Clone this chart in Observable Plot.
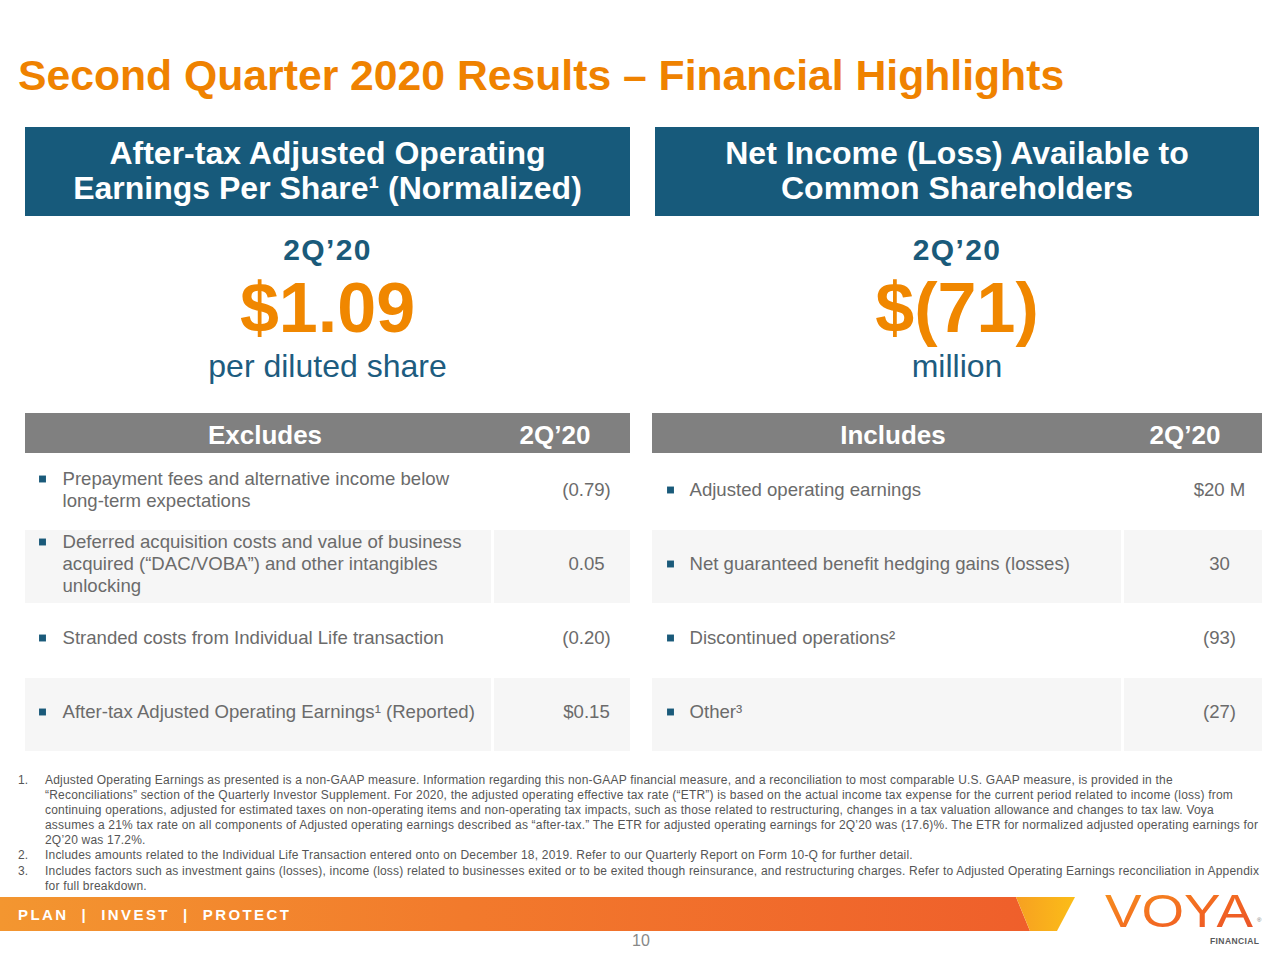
<!DOCTYPE html>
<html><head><meta charset="utf-8">
<script src="https://cdn.jsdelivr.net/npm/d3@7"></script>
<script src="https://cdn.jsdelivr.net/npm/@observablehq/plot@0.6"></script>
<style>
html,body{margin:0;padding:0;background:#fff;}
#slide{position:relative;width:1280px;height:960px;overflow:hidden;font-family:"Liberation Sans",Arial,Helvetica,sans-serif;}
.abs{position:absolute;line-height:1;white-space:nowrap;}
#title{left:18px;top:54px;font-size:42.7px;font-weight:bold;color:#ef8200;}
.hbox{position:absolute;top:127px;height:89px;background:#175a7b;color:#fff;font-weight:bold;font-size:32px;line-height:35px;text-align:center;box-sizing:border-box;padding-top:9px;white-space:nowrap;}
.kpi{position:absolute;text-align:center;line-height:1;white-space:nowrap;}
.q{font-size:30px;font-weight:bold;color:#1a5a7a;letter-spacing:1.4px;}
.big{font-size:70px;font-weight:bold;color:#f08700;}
.unit{font-size:32px;color:#1d5c7f;}
.tbar{position:absolute;top:413px;height:40px;background:#808080;color:#fff;font-weight:bold;font-size:26px;}
.tbar span{position:absolute;top:9px;line-height:1;transform:translateX(-50%);white-space:nowrap;}
.tbl{position:absolute;top:455px;}
#notes{position:absolute;left:0;top:773px;width:1280px;font-size:12px;letter-spacing:0.2px;line-height:15.1px;color:#555;}
#notes div{position:relative;white-space:nowrap;}
#notes .n{position:absolute;left:18px;letter-spacing:0;}
#notes .t{position:absolute;left:45px;}
#banner{position:absolute;left:0;top:897px;width:1080px;height:34px;}
#tag{left:18px;top:907px;font-size:15px;font-weight:bold;color:#fff;letter-spacing:2.4px;white-space:pre;}
#page{left:632px;top:933px;font-size:16px;color:#888;}
#logo{position:absolute;left:1095px;top:880px;}
</style></head>
<body><div id="slide"></div>
<script>
// ---------- data ----------
const slideTitle = "Second Quarter 2020 Results – Financial Highlights";
const panelTitles = ["After-tax Adjusted Operating<br>Earnings Per Share¹ (Normalized)", "Net Income (Loss) Available to<br>Common Shareholders"];
const periodLabel = "2Q’20";
const kpiValues = ["$1.09", "$(71)"];
const kpiUnits = ["per diluted share", "million"];
const tableHeads = ["Excludes", "Includes"];
const excludeLabels = [
  "Prepayment fees and alternative income below\nlong-term expectations",
  "Deferred acquisition costs and value of business\nacquired (“DAC/VOBA”) and other intangibles\nunlocking",
  "Stranded costs from Individual Life transaction",
  "After-tax Adjusted Operating Earnings¹ (Reported)"
];
const excludeValues = ["(0.79)", "0.05", "(0.20)", "$0.15"];
const includeLabels = [
  "Adjusted operating earnings",
  "Net guaranteed benefit hedging gains (losses)",
  "Discontinued operations²",
  "Other³"
];
const includeValues = ["$20 M", "30", "(93)", "(27)"];
const footnoteNums = ["1.", "", "", "", "", "2.", "3.", ""];
const footnoteLines = [
  "Adjusted Operating Earnings as presented is a non-GAAP measure. Information regarding this non-GAAP financial measure, and a reconciliation to most comparable U.S. GAAP measure, is provided in the",
  "“Reconciliations” section of the Quarterly Investor Supplement. For 2020, the adjusted operating effective tax rate (“ETR”) is based on the actual income tax expense for the current period related to income (loss) from",
  "continuing operations, adjusted for estimated taxes on non-operating items and non-operating tax impacts, such as those related to restructuring, changes in a tax valuation allowance and changes to tax law. Voya",
  "assumes a 21% tax rate on all components of Adjusted operating earnings described as “after-tax.” The ETR for adjusted operating earnings for 2Q’20 was (17.6)%. The ETR for normalized adjusted operating earnings for",
  "2Q’20 was 17.2%.",
  "Includes amounts related to the Individual Life Transaction entered onto on December 18, 2019. Refer to our Quarterly Report on Form 10-Q for further detail.",
  "Includes factors such as investment gains (losses), income (loss) related to businesses exited or to be exited though reinsurance, and restructuring charges. Refer to Adjusted Operating Earnings reconciliation in Appendix",
  "for full breakdown."
];
const tagline = "PLAN  |  INVEST  |  PROTECT";
const pageNumber = "10";

// ---------- layout ----------
const slide = document.getElementById("slide");
function el(tag, cls, html, style) {
  const e = document.createElement(tag);
  if (cls) e.className = cls;
  if (html != null) e.innerHTML = html;
  if (style) Object.assign(e.style, style);
  slide.appendChild(e);
  return e;
}
el("div", "abs", slideTitle).id = "title";

const panels = [{left: 25, width: 605}, {left: 655, width: 604}];
panels.forEach((p, i) => {
  el("div", "hbox", panelTitles[i], {left: p.left + "px", width: p.width + "px"});
  el("div", "kpi q", periodLabel, {left: p.left + "px", width: p.width + "px", top: "234.6px"});
  el("div", "kpi big", kpiValues[i], {left: p.left + "px", width: p.width + "px", top: "272.7px"});
  el("div", "kpi unit", kpiUnits[i], {left: p.left + "px", width: p.width + "px", top: "350px"});
});

const tables = [
  {left: 25, width: 605, split: 466, textX: 37, bulletX: 17, valueX: 561, headX: 240, qX: 530, labels: excludeLabels, values: excludeValues},
  {left: 652, width: 610, split: 469, textX: 37, bulletX: 18, valueX: 567, headX: 241, qX: 533, labels: includeLabels, values: includeValues}
];

function table(t) {
  const rows = t.labels.map((label, i) => ({id: i, label, value: t.values[i], lines: label.split("\n").length}));
  const H = 296;
  const shaded = rows.filter(d => d.id % 2 === 1);
  const fs = 18.6;
  return Plot.plot({
    width: t.width, height: H, margin: 0,
    style: {background: "transparent", fontFamily: "Liberation Sans, Arial, sans-serif"},
    x: {type: "linear", domain: [0, t.width], range: [0, t.width], axis: null},
    y: {type: "band", domain: rows.map(d => d.id), range: [0, H], padding: 0, axis: null},
    marks: [
      Plot.barX(shaded, {x1: 0, x2: t.split, y: "id", fill: "#f6f6f6", insetTop: 1}),
      Plot.barX(shaded, {x1: t.split + 3, x2: t.width, y: "id", fill: "#f6f6f6", insetTop: 1}),
      ...[1, 2, 3].map(n => Plot.dot(rows.filter(d => d.lines === n), {
        x: t.bulletX, y: "id", symbol: "square", r: 3.9, fill: "#1a5a7a", dy: -(n - 1) * 11 - 2.5
      })),
      Plot.text(rows, {x: t.textX, y: "id", text: "label", textAnchor: "start", lineAnchor: "middle",
        lineHeight: 22 / fs, fontSize: fs, fill: "#6b6b6b", dy: -4}),
      Plot.text(rows, {x: t.valueX, y: "id", text: "value", textAnchor: "middle", fontSize: fs, fill: "#6b6b6b", dy: -2.5})
    ]
  });
}

tables.forEach((t, i) => {
  const bar = el("div", "tbar", null, {left: t.left + "px", width: t.width + "px"});
  const a = document.createElement("span"); a.textContent = tableHeads[i]; a.style.left = t.headX + "px"; bar.appendChild(a);
  const b = document.createElement("span"); b.textContent = periodLabel; b.style.left = t.qX + "px"; bar.appendChild(b);
  const wrap = el("div", "tbl", null, {left: t.left + "px"});
  wrap.appendChild(table(t));
});

const notes = el("div", null, null); notes.id = "notes";
footnoteLines.forEach((line, i) => {
  const row = document.createElement("div");
  row.style.height = "15.1px";
  const n = document.createElement("span"); n.className = "n"; n.textContent = footnoteNums[i];
  const tx = document.createElement("span"); tx.className = "t"; tx.textContent = line;
  row.appendChild(n); row.appendChild(tx);
  notes.appendChild(row);
});

// banner
const banner = el("div", null, null); banner.id = "banner";
banner.innerHTML = `<svg width="1080" height="34" xmlns="http://www.w3.org/2000/svg">
<defs>
<linearGradient id="bg" x1="0" x2="1" y1="0" y2="0">
<stop offset="0" stop-color="#f39630"/><stop offset="0.45" stop-color="#f27a2c"/><stop offset="1" stop-color="#ef5f2b"/></linearGradient>
<linearGradient id="yg" x1="0" x2="1" y1="0" y2="0">
<stop offset="0" stop-color="#f7a021"/><stop offset="1" stop-color="#fbbd18"/></linearGradient>
</defs>
<polygon points="0,0 1016,0 1030,34 0,34" fill="url(#bg)"/>
<polygon points="1016,0 1075,0 1057,34 1030,34" fill="url(#yg)"/>
</svg>`;
el("div", "abs", tagline).id = "tag";
el("div", "abs", pageNumber).id = "page";

const logo = el("div", null, null); logo.id = "logo";
logo.innerHTML = `<svg width="185" height="70" xmlns="http://www.w3.org/2000/svg">
<defs><linearGradient id="lg" x1="0" x2="1" y1="0" y2="1">
<stop offset="0" stop-color="#f7941d"/><stop offset="0.6" stop-color="#f26522"/><stop offset="1" stop-color="#e8502a"/></linearGradient></defs>
<text x="10" y="47" font-family="Liberation Sans, Arial, sans-serif" font-size="46" textLength="148" lengthAdjust="spacingAndGlyphs" fill="url(#lg)">VOYA</text>
<text x="162" y="42" font-family="Liberation Sans, Arial, sans-serif" font-size="6" fill="#777">®</text>
<text x="115" y="64" font-family="Liberation Sans, Arial, sans-serif" font-size="8.5" font-weight="bold" fill="#58595b" letter-spacing="0.4">FINANCIAL</text>
</svg>`;
</script>
</body></html>
